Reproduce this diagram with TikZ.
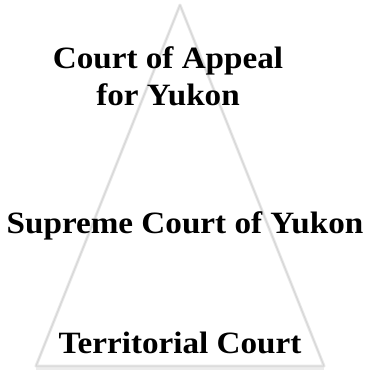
\documentclass[tikz,border=0pt]{standalone}
\usepackage{fontspec}
\setmainfont{Liberation Serif}
\begin{document}
\begin{tikzpicture}[x=1pt,y=-1pt,
  lbl/.style={font=\bfseries\fontsize{31}{36}\selectfont, anchor=base, inner sep=0pt, text=black},
  tri/.style={draw=gray!18, line width=3pt, line join=round},
  triin/.style={draw=gray!32, line width=1pt, line join=round}]
\useasboundingbox (0,0) rectangle (369,375);
\coordinate (apex) at (180,5);
\coordinate (bl) at (36,366);
\coordinate (br) at (324,366);
\draw[draw=gray!15, line width=3pt] ([yshift=-2pt]bl) -- ([yshift=-2pt]br);
\draw[tri] (apex) -- (br) -- (bl) -- cycle;
\draw[triin] (apex) -- (br) -- (bl) -- cycle;
\node[lbl] (a1) at (168,68) {\scalebox{1.07}[1]{Court of Appeal}};
\node[lbl] (a2) at (168,105) {\scalebox{1.07}[1]{for Yukon}};
\node[lbl] (s) at (185,233) {\scalebox{1.07}[1]{Supreme Court of Yukon}};
\node[lbl] (t) at (180,353) {\scalebox{1.07}[1]{Territorial Court}};
\end{tikzpicture}
\end{document}
